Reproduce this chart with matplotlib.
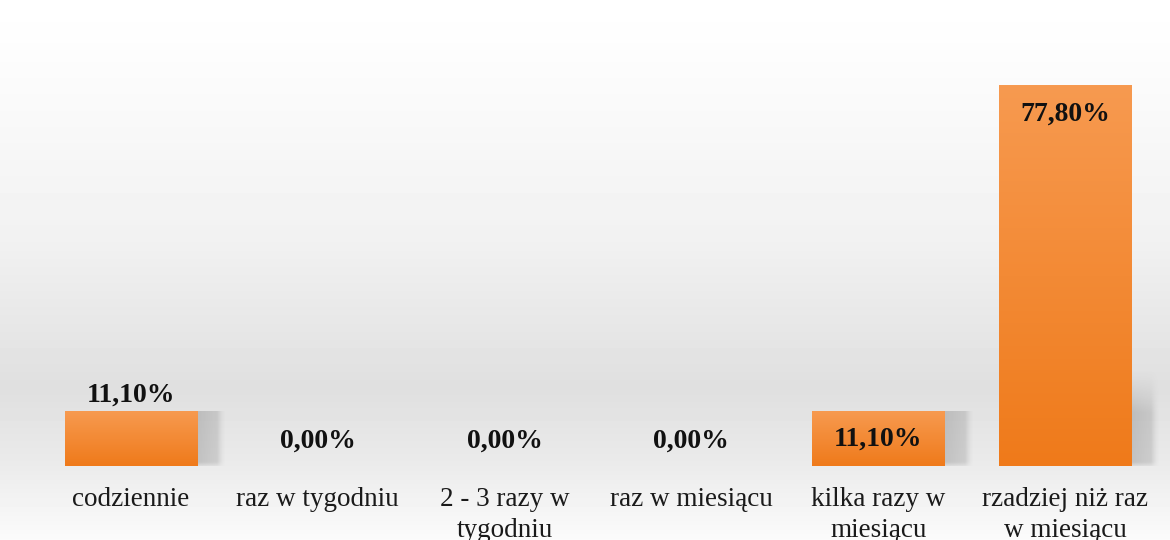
import numpy as np
import matplotlib
matplotlib.use('Agg')
import matplotlib.pyplot as plt
from matplotlib.colors import LinearSegmentedColormap

categories = ['codziennie', 'raz w tygodniu', '2 - 3 razy w\ntygodniu',
              'raz w miesiącu', 'kilka razy w\nmiesiącu', 'rzadziej niż raz\nw miesiącu']
values = [11.1, 0.0, 0.0, 0.0, 11.1, 77.8]
labels = ['11,10%', '0,00%', '0,00%', '0,00%', '11,10%', '77,80%']
label_mode = ['above', 'above', 'above', 'above', 'inside', 'inside']

plt.rcParams['font.family'] = ['Liberation Serif', 'DejaVu Serif']

W, H = 1170, 540
fig = plt.figure(figsize=(W / 100, H / 100), dpi=100)

# background gradient over the whole figure (row 0 = top)
bg = fig.add_axes([0, 0, 1, 1], zorder=0)
ys = np.linspace(0, 1, 540)
shade = np.interp(ys, [0, 0.1, 0.45, 0.72, 0.86, 1.0],
                  [1.0, 0.99, 0.945, 0.875, 0.92, 0.985])
bg.imshow(np.tile(shade[:, None], (1, 2)), cmap='gray', vmin=0, vmax=1,
          aspect='auto', extent=(0, 1, 0, 1))
bg.set_axis_off()

ax = fig.add_axes([37.5 / W, 74 / H, 1121 / W, 466 / H], zorder=1)
ax.set_facecolor('none')
for s in ax.spines.values():
    s.set_visible(False)
ax.set_yticks([])
ax.set_xticks([])

bar_cmap = LinearSegmentedColormap.from_list('bar', ['#ef7a1a', '#f79a50'])
width = 0.71
grad = np.linspace(0, 1, 200)[:, None]

# soft shadow texture (rows bottom -> top, cols left -> right)
sh_w, sh_h = 0.15, 20.0
gy = np.linspace(0, 1, 120)[:, None]
gx = np.linspace(0, 1, 60)[None, :]
fy = np.clip((1 - gy) / 0.45, 0, 1) ** 1.5 * np.clip(gy / 0.06 + 0.4, 0, 1)
fx = np.clip((1 - gx) / 0.3, 0, 1) ** 1.5 * (1 - 0.4 * gx)
shadow = np.zeros((120, 60, 4))
shadow[..., :3] = 0.5
shadow[..., 3] = 0.38 * fy * fx

for i, v in enumerate(values):
    if v <= 0:
        continue
    x0, x1 = i - width / 2, i + width / 2
    h = min(v, sh_h)
    rows = max(2, int(120 * h / sh_h))
    ax.imshow(shadow[:rows], origin='lower', aspect='auto',
              extent=(x1, x1 + sh_w, 0, h), zorder=2, interpolation='bilinear')
    ax.imshow(grad, cmap=bar_cmap, origin='lower', aspect='auto',
              extent=(x0, x1, 0, v), zorder=3)
ax.set_xlim(-0.5, len(categories) - 0.5)
ax.set_ylim(0, 95.4)

for i, (v, lab, mode) in enumerate(zip(values, labels, label_mode)):
    if mode == 'inside':
        off = -20
    else:
        off = 12 if v > 0 else 18
    ax.annotate(lab, (i, v), xytext=(0, off), textcoords='offset points',
                ha='center', va='center', fontsize=20, fontweight='bold',
                color='#111111', zorder=5)

for i, c in enumerate(categories):
    ax.annotate(c, (i, 0), xytext=(0, -15), textcoords='offset points',
                ha='center', va='top', fontsize=19.5, color='#1a1a1a',
                linespacing=1.3, annotation_clip=False)

fig.savefig('out.png', dpi=100)
